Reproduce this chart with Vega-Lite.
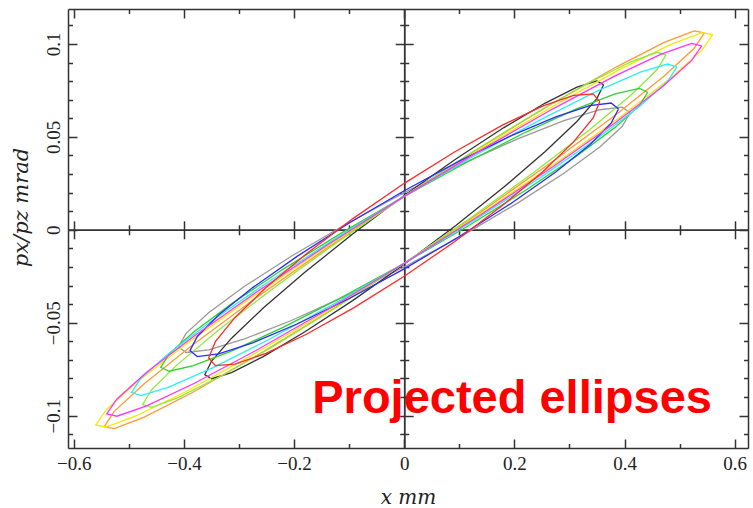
{
"$schema": "https://vega.github.io/schema/vega-lite/v6.json",
"width": 680, "height": 439,
"autosize": "none",
"padding": {"left": 68, "top": 9, "right": 5, "bottom": 60},
"config": {"view": {"stroke": null}, "axis": {"grid": false, "domainColor": "#333333", "tickColor": "#333333", "domainWidth": 1.5, "tickWidth": 1.5, "labelColor": "#222222", "titleColor": "#222222"}},
"datasets": {
"ell": [
{"e":"gray","i":0,"x":0.41,"y":0.063},{"e":"gray","i":1,"x":0.396,"y":0.066},{"e":"gray","i":2,"x":0.3551,"y":0.0646},{"e":"gray","i":3,"x":0.2899,"y":0.0587},{"e":"gray","i":4,"x":0.205,"y":0.0488},{"e":"gray","i":5,"x":0.1061,"y":0.0356},{"e":"gray","i":6,"x":0,"y":0.02},{"e":"gray","i":7,"x":-0.1061,"y":0.003},{"e":"gray","i":8,"x":-0.205,"y":-0.0142},{"e":"gray","i":9,"x":-0.2899,"y":-0.0304},{"e":"gray","i":10,"x":-0.3551,"y":-0.0446},{"e":"gray","i":11,"x":-0.396,"y":-0.0557},{"e":"gray","i":12,"x":-0.41,"y":-0.063},{"e":"gray","i":13,"x":-0.396,"y":-0.066},{"e":"gray","i":14,"x":-0.3551,"y":-0.0646},{"e":"gray","i":15,"x":-0.2899,"y":-0.0587},{"e":"gray","i":16,"x":-0.205,"y":-0.0488},{"e":"gray","i":17,"x":-0.1061,"y":-0.0356},{"e":"gray","i":18,"x":0,"y":-0.02},{"e":"gray","i":19,"x":0.1061,"y":-0.003},{"e":"gray","i":20,"x":0.205,"y":0.0142},{"e":"gray","i":21,"x":0.2899,"y":0.0304},{"e":"gray","i":22,"x":0.3551,"y":0.0446},{"e":"gray","i":23,"x":0.396,"y":0.0557},{"e":"gray","i":24,"x":0.41,"y":0.063},
{"e":"black","i":0,"x":0.362,"y":0.078},{"e":"black","i":1,"x":0.3497,"y":0.0801},{"e":"black","i":2,"x":0.3135,"y":0.0768},{"e":"black","i":3,"x":0.256,"y":0.0682},{"e":"black","i":4,"x":0.181,"y":0.055},{"e":"black","i":5,"x":0.0937,"y":0.0381},{"e":"black","i":6,"x":0,"y":0.0185},{"e":"black","i":7,"x":-0.0937,"y":-0.0023},{"e":"black","i":8,"x":-0.181,"y":-0.023},{"e":"black","i":9,"x":-0.256,"y":-0.0421},{"e":"black","i":10,"x":-0.3135,"y":-0.0583},{"e":"black","i":11,"x":-0.3497,"y":-0.0706},{"e":"black","i":12,"x":-0.362,"y":-0.078},{"e":"black","i":13,"x":-0.3497,"y":-0.0801},{"e":"black","i":14,"x":-0.3135,"y":-0.0768},{"e":"black","i":15,"x":-0.256,"y":-0.0682},{"e":"black","i":16,"x":-0.181,"y":-0.055},{"e":"black","i":17,"x":-0.0937,"y":-0.0381},{"e":"black","i":18,"x":0,"y":-0.0185},{"e":"black","i":19,"x":0.0937,"y":0.0023},{"e":"black","i":20,"x":0.181,"y":0.023},{"e":"black","i":21,"x":0.256,"y":0.0421},{"e":"black","i":22,"x":0.3135,"y":0.0583},{"e":"black","i":23,"x":0.3497,"y":0.0706},{"e":"black","i":24,"x":0.362,"y":0.078},
{"e":"orange","i":0,"x":0.545,"y":0.106},{"e":"orange","i":1,"x":0.5264,"y":0.107},{"e":"orange","i":2,"x":0.472,"y":0.1008},{"e":"orange","i":3,"x":0.3854,"y":0.0877},{"e":"orange","i":4,"x":0.2725,"y":0.0686},{"e":"orange","i":5,"x":0.141,"y":0.0448},{"e":"orange","i":6,"x":0,"y":0.018},{"e":"orange","i":7,"x":-0.141,"y":-0.01},{"e":"orange","i":8,"x":-0.2725,"y":-0.0374},{"e":"orange","i":9,"x":-0.3854,"y":-0.0622},{"e":"orange","i":10,"x":-0.472,"y":-0.0828},{"e":"orange","i":11,"x":-0.5264,"y":-0.0977},{"e":"orange","i":12,"x":-0.545,"y":-0.106},{"e":"orange","i":13,"x":-0.5264,"y":-0.107},{"e":"orange","i":14,"x":-0.472,"y":-0.1008},{"e":"orange","i":15,"x":-0.3854,"y":-0.0877},{"e":"orange","i":16,"x":-0.2725,"y":-0.0686},{"e":"orange","i":17,"x":-0.141,"y":-0.0448},{"e":"orange","i":18,"x":0,"y":-0.018},{"e":"orange","i":19,"x":0.141,"y":0.01},{"e":"orange","i":20,"x":0.2725,"y":0.0374},{"e":"orange","i":21,"x":0.3854,"y":0.0622},{"e":"orange","i":22,"x":0.472,"y":0.0828},{"e":"orange","i":23,"x":0.5264,"y":0.0977},{"e":"orange","i":24,"x":0.545,"y":0.106},
{"e":"yellow","i":0,"x":0.56,"y":0.105},{"e":"yellow","i":1,"x":0.5409,"y":0.1061},{"e":"yellow","i":2,"x":0.485,"y":0.0999},{"e":"yellow","i":3,"x":0.396,"y":0.087},{"e":"yellow","i":4,"x":0.28,"y":0.0681},{"e":"yellow","i":5,"x":0.1449,"y":0.0446},{"e":"yellow","i":6,"x":0,"y":0.018},{"e":"yellow","i":7,"x":-0.1449,"y":-0.0098},{"e":"yellow","i":8,"x":-0.28,"y":-0.0369},{"e":"yellow","i":9,"x":-0.396,"y":-0.0615},{"e":"yellow","i":10,"x":-0.485,"y":-0.0819},{"e":"yellow","i":11,"x":-0.5409,"y":-0.0968},{"e":"yellow","i":12,"x":-0.56,"y":-0.105},{"e":"yellow","i":13,"x":-0.5409,"y":-0.1061},{"e":"yellow","i":14,"x":-0.485,"y":-0.0999},{"e":"yellow","i":15,"x":-0.396,"y":-0.087},{"e":"yellow","i":16,"x":-0.28,"y":-0.0681},{"e":"yellow","i":17,"x":-0.1449,"y":-0.0446},{"e":"yellow","i":18,"x":0,"y":-0.018},{"e":"yellow","i":19,"x":0.1449,"y":0.0098},{"e":"yellow","i":20,"x":0.28,"y":0.0369},{"e":"yellow","i":21,"x":0.396,"y":0.0615},{"e":"yellow","i":22,"x":0.485,"y":0.0819},{"e":"yellow","i":23,"x":0.5409,"y":0.0968},{"e":"yellow","i":24,"x":0.56,"y":0.105},
{"e":"lime","i":0,"x":0.475,"y":0.094},{"e":"lime","i":1,"x":0.4588,"y":0.0955},{"e":"lime","i":2,"x":0.4114,"y":0.0904},{"e":"lime","i":3,"x":0.3359,"y":0.0792},{"e":"lime","i":4,"x":0.2375,"y":0.0626},{"e":"lime","i":5,"x":0.1229,"y":0.0417},{"e":"lime","i":6,"x":0,"y":0.018},{"e":"lime","i":7,"x":-0.1229,"y":-0.0069},{"e":"lime","i":8,"x":-0.2375,"y":-0.0314},{"e":"lime","i":9,"x":-0.3359,"y":-0.0537},{"e":"lime","i":10,"x":-0.4114,"y":-0.0724},{"e":"lime","i":11,"x":-0.4588,"y":-0.0861},{"e":"lime","i":12,"x":-0.475,"y":-0.094},{"e":"lime","i":13,"x":-0.4588,"y":-0.0955},{"e":"lime","i":14,"x":-0.4114,"y":-0.0904},{"e":"lime","i":15,"x":-0.3359,"y":-0.0792},{"e":"lime","i":16,"x":-0.2375,"y":-0.0626},{"e":"lime","i":17,"x":-0.1229,"y":-0.0417},{"e":"lime","i":18,"x":0,"y":-0.018},{"e":"lime","i":19,"x":0.1229,"y":0.0069},{"e":"lime","i":20,"x":0.2375,"y":0.0314},{"e":"lime","i":21,"x":0.3359,"y":0.0537},{"e":"lime","i":22,"x":0.4114,"y":0.0724},{"e":"lime","i":23,"x":0.4588,"y":0.0861},{"e":"lime","i":24,"x":0.475,"y":0.094},
{"e":"green","i":0,"x":0.442,"y":0.074},{"e":"green","i":1,"x":0.4269,"y":0.0761},{"e":"green","i":2,"x":0.3828,"y":0.0731},{"e":"green","i":3,"x":0.3125,"y":0.0651},{"e":"green","i":4,"x":0.221,"y":0.0526},{"e":"green","i":5,"x":0.1144,"y":0.0365},{"e":"green","i":6,"x":0,"y":0.018},{"e":"green","i":7,"x":-0.1144,"y":-0.0018},{"e":"green","i":8,"x":-0.221,"y":-0.0214},{"e":"green","i":9,"x":-0.3125,"y":-0.0396},{"e":"green","i":10,"x":-0.3828,"y":-0.0551},{"e":"green","i":11,"x":-0.4269,"y":-0.0668},{"e":"green","i":12,"x":-0.442,"y":-0.074},{"e":"green","i":13,"x":-0.4269,"y":-0.0761},{"e":"green","i":14,"x":-0.3828,"y":-0.0731},{"e":"green","i":15,"x":-0.3125,"y":-0.0651},{"e":"green","i":16,"x":-0.221,"y":-0.0526},{"e":"green","i":17,"x":-0.1144,"y":-0.0365},{"e":"green","i":18,"x":0,"y":-0.018},{"e":"green","i":19,"x":0.1144,"y":0.0018},{"e":"green","i":20,"x":0.221,"y":0.0214},{"e":"green","i":21,"x":0.3125,"y":0.0396},{"e":"green","i":22,"x":0.3828,"y":0.0551},{"e":"green","i":23,"x":0.4269,"y":0.0668},{"e":"green","i":24,"x":0.442,"y":0.074},
{"e":"cyan","i":0,"x":0.495,"y":0.0875},{"e":"cyan","i":1,"x":0.4781,"y":0.0892},{"e":"cyan","i":2,"x":0.4287,"y":0.0848},{"e":"cyan","i":3,"x":0.35,"y":0.0746},{"e":"cyan","i":4,"x":0.2475,"y":0.0593},{"e":"cyan","i":5,"x":0.1281,"y":0.04},{"e":"cyan","i":6,"x":0,"y":0.018},{"e":"cyan","i":7,"x":-0.1281,"y":-0.0053},{"e":"cyan","i":8,"x":-0.2475,"y":-0.0282},{"e":"cyan","i":9,"x":-0.35,"y":-0.0491},{"e":"cyan","i":10,"x":-0.4287,"y":-0.0668},{"e":"cyan","i":11,"x":-0.4781,"y":-0.0799},{"e":"cyan","i":12,"x":-0.495,"y":-0.0875},{"e":"cyan","i":13,"x":-0.4781,"y":-0.0892},{"e":"cyan","i":14,"x":-0.4287,"y":-0.0848},{"e":"cyan","i":15,"x":-0.35,"y":-0.0746},{"e":"cyan","i":16,"x":-0.2475,"y":-0.0593},{"e":"cyan","i":17,"x":-0.1281,"y":-0.04},{"e":"cyan","i":18,"x":0,"y":-0.018},{"e":"cyan","i":19,"x":0.1281,"y":0.0053},{"e":"cyan","i":20,"x":0.2475,"y":0.0282},{"e":"cyan","i":21,"x":0.35,"y":0.0491},{"e":"cyan","i":22,"x":0.4287,"y":0.0668},{"e":"cyan","i":23,"x":0.4781,"y":0.0799},{"e":"cyan","i":24,"x":0.495,"y":0.0875},
{"e":"blue","i":0,"x":0.389,"y":0.065},{"e":"blue","i":1,"x":0.3757,"y":0.0682},{"e":"blue","i":2,"x":0.3369,"y":0.0668},{"e":"blue","i":3,"x":0.2751,"y":0.0608},{"e":"blue","i":4,"x":0.1945,"y":0.0507},{"e":"blue","i":5,"x":0.1007,"y":0.0371},{"e":"blue","i":6,"x":0,"y":0.021},{"e":"blue","i":7,"x":-0.1007,"y":0.0035},{"e":"blue","i":8,"x":-0.1945,"y":-0.0143},{"e":"blue","i":9,"x":-0.2751,"y":-0.0311},{"e":"blue","i":10,"x":-0.3369,"y":-0.0458},{"e":"blue","i":11,"x":-0.3757,"y":-0.0574},{"e":"blue","i":12,"x":-0.389,"y":-0.065},{"e":"blue","i":13,"x":-0.3757,"y":-0.0682},{"e":"blue","i":14,"x":-0.3369,"y":-0.0668},{"e":"blue","i":15,"x":-0.2751,"y":-0.0608},{"e":"blue","i":16,"x":-0.1945,"y":-0.0507},{"e":"blue","i":17,"x":-0.1007,"y":-0.0371},{"e":"blue","i":18,"x":0,"y":-0.021},{"e":"blue","i":19,"x":0.1007,"y":-0.0035},{"e":"blue","i":20,"x":0.1945,"y":0.0143},{"e":"blue","i":21,"x":0.2751,"y":0.0311},{"e":"blue","i":22,"x":0.3369,"y":0.0458},{"e":"blue","i":23,"x":0.3757,"y":0.0574},{"e":"blue","i":24,"x":0.389,"y":0.065},
{"e":"magenta","i":0,"x":0.54,"y":0.099},{"e":"magenta","i":1,"x":0.5216,"y":0.1003},{"e":"magenta","i":2,"x":0.4676,"y":0.0947},{"e":"magenta","i":3,"x":0.3818,"y":0.0827},{"e":"magenta","i":4,"x":0.27,"y":0.0651},{"e":"magenta","i":5,"x":0.1398,"y":0.043},{"e":"magenta","i":6,"x":0,"y":0.018},{"e":"magenta","i":7,"x":-0.1398,"y":-0.0082},{"e":"magenta","i":8,"x":-0.27,"y":-0.0339},{"e":"magenta","i":9,"x":-0.3818,"y":-0.0573},{"e":"magenta","i":10,"x":-0.4676,"y":-0.0767},{"e":"magenta","i":11,"x":-0.5216,"y":-0.091},{"e":"magenta","i":12,"x":-0.54,"y":-0.099},{"e":"magenta","i":13,"x":-0.5216,"y":-0.1003},{"e":"magenta","i":14,"x":-0.4676,"y":-0.0947},{"e":"magenta","i":15,"x":-0.3818,"y":-0.0827},{"e":"magenta","i":16,"x":-0.27,"y":-0.0651},{"e":"magenta","i":17,"x":-0.1398,"y":-0.043},{"e":"magenta","i":18,"x":0,"y":-0.018},{"e":"magenta","i":19,"x":0.1398,"y":0.0082},{"e":"magenta","i":20,"x":0.27,"y":0.0339},{"e":"magenta","i":21,"x":0.3818,"y":0.0573},{"e":"magenta","i":22,"x":0.4676,"y":0.0767},{"e":"magenta","i":23,"x":0.5216,"y":0.091},{"e":"magenta","i":24,"x":0.54,"y":0.099},
{"e":"red","i":0,"x":0.355,"y":0.069},{"e":"red","i":1,"x":0.3429,"y":0.0731},{"e":"red","i":2,"x":0.3074,"y":0.0723},{"e":"red","i":3,"x":0.251,"y":0.0665},{"e":"red","i":4,"x":0.1775,"y":0.0562},{"e":"red","i":5,"x":0.0919,"y":0.042},{"e":"red","i":6,"x":0,"y":0.025},{"e":"red","i":7,"x":-0.0919,"y":0.0063},{"e":"red","i":8,"x":-0.1775,"y":-0.0129},{"e":"red","i":9,"x":-0.251,"y":-0.0311},{"e":"red","i":10,"x":-0.3074,"y":-0.0473},{"e":"red","i":11,"x":-0.3429,"y":-0.0602},{"e":"red","i":12,"x":-0.355,"y":-0.069},{"e":"red","i":13,"x":-0.3429,"y":-0.0731},{"e":"red","i":14,"x":-0.3074,"y":-0.0723},{"e":"red","i":15,"x":-0.251,"y":-0.0665},{"e":"red","i":16,"x":-0.1775,"y":-0.0562},{"e":"red","i":17,"x":-0.0919,"y":-0.042},{"e":"red","i":18,"x":0,"y":-0.025},{"e":"red","i":19,"x":0.0919,"y":-0.0063},{"e":"red","i":20,"x":0.1775,"y":0.0129},{"e":"red","i":21,"x":0.251,"y":0.0311},{"e":"red","i":22,"x":0.3074,"y":0.0473},{"e":"red","i":23,"x":0.3429,"y":0.0602},{"e":"red","i":24,"x":0.355,"y":0.069}
],
"lab": [{"x": -0.167, "y": -0.0984, "t": "Projected ellipses"}]
},
"resolve": {"axis": {"x": "independent", "y": "independent"}},
"layer": [
{
"data": {"name": "ell"},
"mark": {"type": "line", "strokeWidth": 1.3, "interpolate": "linear"},
"encoding": {
"x": {"field": "x", "type": "quantitative", "scale": {"domain": [-0.6104, 0.6241], "nice": false, "zero": false},
 "axis": {"orient": "bottom", "values": [-0.6,-0.5,-0.4,-0.3,-0.2,-0.1,0,0.1,0.2,0.3,0.4,0.5,0.6],
  "tickSize": {"condition": {"test": "round(datum.value*10) % 2 === 0", "value": -9}, "value": -4.5},
  "labelExpr": "round(datum.value*10) % 2 === 0 ? format(datum.value, '.1~f') : ''",
  "labelFont": "Liberation Serif", "labelFontSize": 19, "labelPadding": 15, "labelBaseline": "top", "labelFlush": false, "labelOverlap": false,
  "title": "x mm", "titleFont": "DejaVu Serif", "titleFontStyle": "italic", "titleFontWeight": "normal", "titleFontSize": 20, "titlePadding": 10}},
"y": {"field": "y", "type": "quantitative", "scale": {"domain": [-0.1174, 0.1188], "nice": false, "zero": false},
 "axis": {"orient": "left", "values": [-0.11,-0.1,-0.09,-0.08,-0.07,-0.06,-0.05,-0.04,-0.03,-0.02,-0.01,0,0.01,0.02,0.03,0.04,0.05,0.06,0.07,0.08,0.09,0.1,0.11],
  "tickSize": {"condition": {"test": "round(datum.value*100) % 5 === 0", "value": -9}, "value": -4.5},
  "labelExpr": "round(datum.value*100) % 5 === 0 ? format(datum.value, '.2~f') : ''",
  "labelFont": "Liberation Serif", "labelFontSize": 19, "labelAngle": -90, "labelAlign": "center", "labelBaseline": "alphabetic", "labelPadding": 18, "labelFlush": false, "labelOverlap": false,
  "title": "px/pz mrad", "titleFont": "DejaVu Serif", "titleFontStyle": "italic", "titleFontWeight": "normal", "titleFontSize": 21, "titlePadding": 8, "titleY": 198}},
"color": {"field": "e", "type": "nominal", "legend": null,
 "scale": {"domain": ["red","orange","yellow","lime","green","cyan","blue","magenta","black","gray"],
  "range": ["#ff2a2a","#ff9933","#f2ea00","#8fe83a","#2ed12e","#2af0f0","#2a2aff","#ff33ff","#333333","#999999"]}},
"order": {"field": "i", "type": "quantitative"}
}
},
{
"data": {"name": "ell"},
"mark": {"type": "point", "opacity": 0},
"encoding": {
"x": {"field": "x", "type": "quantitative", "scale": {"domain": [-0.6104, 0.6241], "nice": false, "zero": false},
 "axis": {"orient": "top", "values": [-0.6,-0.5,-0.4,-0.3,-0.2,-0.1,0,0.1,0.2,0.3,0.4,0.5,0.6],
  "tickSize": {"condition": {"test": "round(datum.value*10) % 2 === 0", "value": -9}, "value": -4.5},
  "labels": false, "title": null}},
"y": {"field": "y", "type": "quantitative", "scale": {"domain": [-0.1174, 0.1188], "nice": false, "zero": false},
 "axis": {"orient": "right", "values": [-0.11,-0.1,-0.09,-0.08,-0.07,-0.06,-0.05,-0.04,-0.03,-0.02,-0.01,0,0.01,0.02,0.03,0.04,0.05,0.06,0.07,0.08,0.09,0.1,0.11],
  "tickSize": {"condition": {"test": "round(datum.value*100) % 5 === 0", "value": -9}, "value": -4.5},
  "labels": false, "title": null}}
}
},
{
"data": {"name": "ell"},
"mark": {"type": "point", "opacity": 0},
"encoding": {
"x": {"field": "x", "type": "quantitative", "scale": {"domain": [-0.6104, 0.6241], "nice": false, "zero": false},
 "axis": {"orient": "bottom", "offset": -218.2, "values": [-0.6,-0.5,-0.4,-0.3,-0.2,-0.1,0.1,0.2,0.3,0.4,0.5,0.6],
  "tickSize": {"condition": {"test": "round(datum.value*10) % 2 === 0", "value": 9}, "value": 5},
  "labels": false, "title": null}},
"y": {"field": "y", "type": "quantitative", "scale": {"domain": [-0.1174, 0.1188], "nice": false, "zero": false},
 "axis": {"orient": "left", "offset": -336.2, "values": [-0.11,-0.1,-0.09,-0.08,-0.07,-0.06,-0.05,-0.04,-0.03,-0.02,-0.01,0.01,0.02,0.03,0.04,0.05,0.06,0.07,0.08,0.09,0.1,0.11],
  "tickSize": {"condition": {"test": "round(datum.value*100) % 5 === 0", "value": 9}, "value": 4.5},
  "labels": false, "title": null}}
}
},
{
"data": {"name": "ell"},
"mark": {"type": "point", "opacity": 0},
"encoding": {
"x": {"field": "x", "type": "quantitative", "scale": {"domain": [-0.6104, 0.6241], "nice": false, "zero": false},
 "axis": {"orient": "bottom", "offset": -218.2, "values": [-0.6,-0.5,-0.4,-0.3,-0.2,-0.1,0.1,0.2,0.3,0.4,0.5,0.6],
  "tickSize": {"condition": {"test": "round(datum.value*10) % 2 === 0", "value": -9}, "value": -5},
  "labels": false, "title": null}},
"y": {"field": "y", "type": "quantitative", "scale": {"domain": [-0.1174, 0.1188], "nice": false, "zero": false},
 "axis": {"orient": "left", "offset": -336.2, "values": [-0.11,-0.1,-0.09,-0.08,-0.07,-0.06,-0.05,-0.04,-0.03,-0.02,-0.01,0.01,0.02,0.03,0.04,0.05,0.06,0.07,0.08,0.09,0.1,0.11],
  "tickSize": {"condition": {"test": "round(datum.value*100) % 5 === 0", "value": -9}, "value": -4.5},
  "labels": false, "title": null}}
}
},
{
"data": {"name": "lab"},
"mark": {"type": "text", "align": "left", "baseline": "alphabetic", "font": "Liberation Sans", "fontWeight": "bold", "fontSize": 47, "color": "#ff0000"},
"encoding": {
"x": {"field": "x", "type": "quantitative", "scale": {"domain": [-0.6104, 0.6241], "nice": false, "zero": false}, "axis": null},
"y": {"field": "y", "type": "quantitative", "scale": {"domain": [-0.1174, 0.1188], "nice": false, "zero": false}, "axis": null},
"text": {"field": "t"}
}
}
]
}
